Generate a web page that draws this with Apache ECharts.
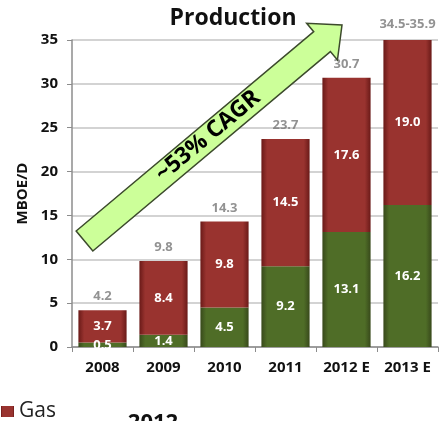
<!DOCTYPE html>
<html>
<head>
<meta charset="utf-8">
<script src="https://cdn.jsdelivr.net/npm/echarts@6/dist/echarts.min.js"></script>
<style>
  html, body { margin: 0; padding: 0; background: #fff; }
  #chart { width: 444px; height: 421px; }
</style>
</head>
<body>
<div id="chart"></div>
<script>
// Production by year, MBOE/D
const years = ['2008', '2009', '2010', '2011', '2012 E', '2013 E'];
const oil = [0.5, 1.4, 4.5, 9.2, 13.1, 16.2];
const gas = [3.7, 8.4, 9.8, 14.5, 17.6, 19.0];
const totalLabels = ['4.2', '9.8', '14.3', '23.7', '30.7', '34.5-35.9'];
const yTicks = [0, 5, 10, 15, 20, 25, 30, 35];

const totals = oil.map((v, i) => +(v + gas[i]).toFixed(1));

const FONT = '"Open Sans", "DejaVu Sans", sans-serif';

function shade(edge, mid) {
  return new echarts.graphic.LinearGradient(0, 0, 1, 0, [
    { offset: 0, color: edge },
    { offset: 0.12, color: mid },
    { offset: 0.88, color: mid },
    { offset: 1, color: edge }
  ]);
}

const chart = echarts.init(document.getElementById('chart'), null, { renderer: 'canvas' });

// Arrow geometry (decorative trend arrow)
const ux = 0.767, uy = -0.641, nx = 0.641, ny = 0.767;
const tail = [84.5, 241], tip = [342, 25];
const halfShaft = 13, halfHead = 24, headLen = 26;
const hb = [tip[0] - headLen * ux, tip[1] - headLen * uy];
const arrowPts = [
  [tail[0] - halfShaft * nx, tail[1] - halfShaft * ny],
  [hb[0] - halfShaft * nx, hb[1] - halfShaft * ny],
  [hb[0] - halfHead * nx, hb[1] - halfHead * ny],
  tip,
  [hb[0] + halfHead * nx, hb[1] + halfHead * ny],
  [hb[0] + halfShaft * nx, hb[1] + halfShaft * ny],
  [tail[0] + halfShaft * nx, tail[1] + halfShaft * ny]
];

const segLabel = {
  show: true, position: 'inside',
  fontFamily: FONT, fontWeight: 'bold', fontSize: 13, color: '#fff',
  formatter: p => p.value.toFixed(1)
};

chart.setOption({
  animation: false,
  backgroundColor: '#ffffff',
  grid: { left: 72, right: 6, top: 40, bottom: 74 },
  legend: {
    data: [{ name: 'Gas', icon: 'rect' }],
    left: -4, top: 396,
    itemWidth: 13, itemHeight: 11, itemGap: 4,
    textStyle: { fontFamily: FONT, fontSize: 21, color: '#222' }
  },
  xAxis: {
    type: 'category',
    data: years,
    axisLine: { lineStyle: { color: '#8c8c8c', width: 1.5 } },
    axisTick: { show: true, length: 5, lineStyle: { color: '#8c8c8c' } },
    axisLabel: { fontFamily: FONT, fontWeight: 'bold', fontSize: 15, color: '#111', margin: 13 }
  },
  yAxis: {
    type: 'value',
    min: yTicks[0], max: yTicks[yTicks.length - 1], interval: 5,
    name: 'MBOE/D',
    nameLocation: 'middle',
    nameGap: 42,
    nameTextStyle: { fontFamily: FONT, fontWeight: 'bold', fontSize: 15, color: '#111' },
    axisLine: { show: true, lineStyle: { color: '#8c8c8c', width: 1.5 } },
    axisTick: { show: true, length: 5, lineStyle: { color: '#8c8c8c' } },
    axisLabel: { fontFamily: FONT, fontWeight: 'bold', fontSize: 15, color: '#111', margin: 14 },
    splitLine: { lineStyle: { color: '#c4c4c4', width: 1.5 } }
  },
  series: [
    {
      name: 'Oil',
      type: 'bar',
      stack: 'prod',
      barWidth: '79%',
      data: oil,
      itemStyle: { color: shade('#38491b', '#4f6d27') },
      label: segLabel
    },
    {
      name: 'Gas',
      type: 'bar',
      stack: 'prod',
      barWidth: '79%',
      data: gas,
      itemStyle: { color: shade('#6a1a18', '#99332f') },
      label: segLabel
    },
    {
      name: 'Total',
      type: 'scatter',
      data: totals,
      symbolSize: 0,
      silent: true,
      clip: false,
      label: {
        show: true, position: 'top', distance: 7,
        fontFamily: FONT, fontWeight: 'bold', fontSize: 13, color: '#777',
        formatter: p => totalLabels[p.dataIndex]
      }
    }
  ],
  graphic: [
    {
      type: 'text', z: 10, x: 233, y: 18,
      style: { text: 'Production', fill: '#111', font: 'bold 23px ' + FONT, align: 'center', verticalAlign: 'middle' }
    },
    {
      type: 'polygon', z: 20,
      shape: { points: arrowPts },
      style: { fill: '#ccff99', stroke: '#3c4a2c', lineWidth: 1.5 }
    },
    {
      type: 'text', z: 21,
      x: 208, y: 136,
      rotation: Math.atan2(-uy, ux),
      style: {
        text: '~53% CAGR', fill: '#000',
        font: 'bold 23px ' + FONT,
        align: 'center', verticalAlign: 'middle'
      }
    },
    {
      type: 'text', z: 10, x: 153, y: 412,
      style: { text: '2012', fill: '#111', font: 'bold 22px ' + FONT, align: 'center', verticalAlign: 'top' }
    }
  ]
});
</script>
</body>
</html>
